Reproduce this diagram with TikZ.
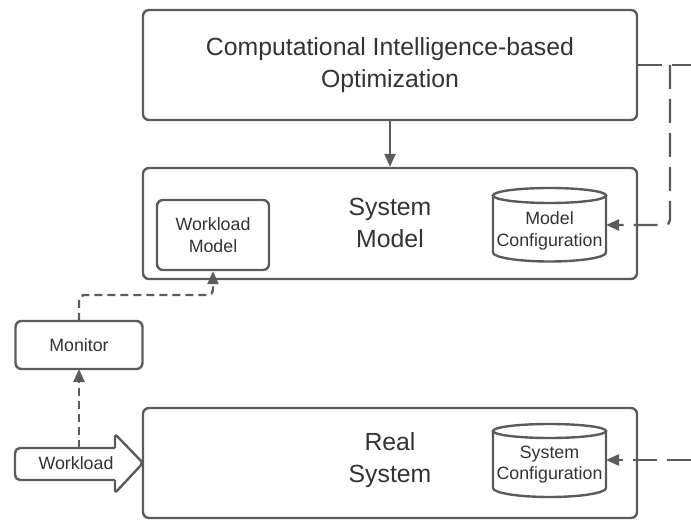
\documentclass[tikz,border=0pt]{standalone}
\usepackage{fontspec}
\setmainfont{Liberation Sans}
\usetikzlibrary{arrows.meta}
\definecolor{ln}{HTML}{5B5B5B}
\definecolor{tx}{HTML}{333333}
\begin{document}
\begin{tikzpicture}[x=1pt,y=1pt,
  box/.style={draw=ln, line width=2.4pt, rounded corners=6pt, fill=white, text=tx, align=center, inner sep=0pt},
  bigtxt/.style={font=\fontsize{24.8}{31.5}\selectfont},
  smalltxt/.style={font=\fontsize{17.8}{21.5}\selectfont},
  conn/.style={draw=ln, line width=2.4pt, -{Triangle[length=13pt,width=11pt]}},
  longdash/.style={dash pattern=on 24pt off 10pt},
  shortdash/.style={dash pattern=on 8pt off 5pt},
  cyl/.style={draw=ln, line width=2.4pt, fill=white}
]
\useasboundingbox (0,0) rectangle (691,520);

% main boxes
\node[box, bigtxt, minimum width=494pt, minimum height=110pt] (opt) at (390,455)
  {Computational Intelligence-based\\Optimization};
\node[box, minimum width=494pt, minimum height=111pt] (sm) at (390,296.5) {};
\node[text=tx, bigtxt, align=center] (smt) at (390,297) {System\\Model};
\node[box, minimum width=494pt, minimum height=110pt] (rs) at (390,57) {};
\node[text=tx, bigtxt, align=center] (rst) at (390,60) {Real\\System};

% workload model
\node[box, smalltxt, minimum width=112pt, minimum height=70pt] (wm) at (213,285) {Workload\\Model};

% monitor
\node[box, smalltxt, minimum width=127pt, minimum height=48pt] (mon) at (79,175) {Monitor};

% workload arrow shape
\draw[ln, line width=2.4pt, fill=white, rounded corners=5pt]
  (115,72) -- (15,72) -- (15,40) -- (115,40);
\draw[ln, line width=2.4pt, fill=white, rounded corners=3pt, line join=round]
  (115,40) -- (115,27) -- (143,57) -- (115,86) -- (115,72);
\fill[white] (112,42) rectangle (118,70);
\node[text=tx, smalltxt, inner sep=0pt] (wl) at (76,57) {Workload};
\coordinate (wltop) at (79,72);

% cylinders
\draw[cyl] (493,324.5) -- (493,267.5) arc[start angle=180,end angle=360,x radius=56.5pt,y radius=9pt] -- (606,324.5);
\draw[cyl] (549.5,324.5) ellipse[x radius=56.5pt, y radius=7.5pt];
\node[text=tx, smalltxt, align=center] (mc) at (549.5,289) {Model\\Configuration};
\coordinate (mce) at (606,295);

\draw[cyl] (493,89) -- (493,32) arc[start angle=180,end angle=360,x radius=56.5pt,y radius=9pt] -- (606,89);
\draw[cyl] (549.5,89) ellipse[x radius=56.5pt, y radius=7pt];
\node[text=tx, smalltxt, align=center] (sc) at (549.5,55.5) {System\\Configuration};
\coordinate (sce) at (606,60);

% connectors
\draw[conn] (opt.south) -- (sm.north);

\coordinate (rt) at (691,455);
\coordinate (br) at (670,455);
\draw[ln, line width=2.4pt, longdash] (opt.east) -- (rt);
\draw[conn, longdash, rounded corners=5pt] (br) -- (670,295) -- (mce);

\coordinate (rb) at (691,60);
\draw[conn, longdash] (rb) -- (sce);

\draw[conn, shortdash] (wltop) -- (79,151);
\draw[conn, shortdash, rounded corners=5pt] (79,199) -- (79,225) -- (213,225) -- (wm.south);
\end{tikzpicture}
\end{document}
